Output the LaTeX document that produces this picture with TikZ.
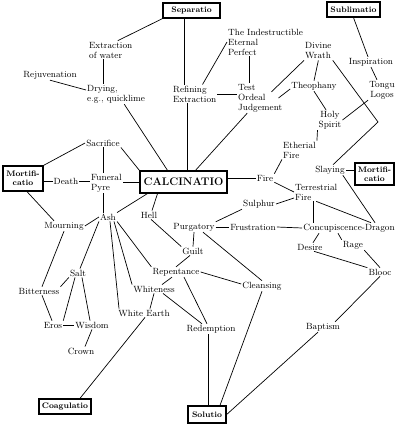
\documentclass[tikz,border=0pt]{standalone}
\begin{document}
\begin{tikzpicture}[x=1pt,y=-1pt,
  t/.style={font=\fontsize{9}{10}\selectfont, inner sep=1pt, align=center},
  tl/.style={t, align=left, anchor=west},
  box/.style={draw, line width=1.3pt, font=\bfseries\fontsize{8}{9}\selectfont, inner sep=1pt, align=center},
  e/.style={line width=0.7pt}]
\useasboundingbox (0,0) rectangle (407,427);
% boxes
\node[box, minimum width=57pt, minimum height=15pt] (sep) at (191.5,10.5) {Separatio};
\node[box, minimum width=53pt, minimum height=15pt] (sub) at (353.5,9.5) {Sublimatio};
\node[box, minimum width=40pt, minimum height=25pt, font=\bfseries\fontsize{8}{9}\selectfont] (mort1) at (23,178.5) {Mortifi-\\catio};
\node[box, minimum width=39pt, minimum height=22pt] (mort2) at (374.5,174) {Mortifi-\\catio};
\node[box, minimum width=87pt, minimum height=22pt, font=\bfseries\fontsize{11}{12}\selectfont] (calc) at (183.5,182) {CALCINATIO};
\node[box, minimum width=52pt, minimum height=15pt] (coag) at (65,406.5) {Coagulatio};
\node[box, minimum width=38pt, minimum height=17pt] (sol) at (207,414.5) {Solutio};
% text nodes
\node[tl] (extr) at (88,50) {Extraction\\of water};
\node[t] (rej) at (50,75) {Rejuvenation};
\node[tl] (dry) at (86,94) {Drying,\\e.g., quicklime};
\node[tl] (ref) at (172,94) {Refining\\Extraction};
\node[tl] (indes) at (227,42) {The Indestructible\\Eternal\\Perfect};
\node[tl] (test) at (237,98) {Test\\Ordeal\\Judgement};
\node[tl] (wrath) at (304,51) {Divine\\Wrath};
\node[t] (theo) at (314,86) {Theophany};
\node[t] (holy) at (330,120) {Holy\\Spirit};
\node[t] (insp) at (371,62) {Inspiration};
\node[t] (tongu) at (382,90) {Tongu\\Logos};
\node[tl] (eth) at (282,150) {Etherial\\Fire};
\node[t] (slay) at (330,170) {Slaying};
\node[t] (fire) at (265,178) {Fire};
\node[tl] (terr) at (294,192) {Terrestrial\\Fire};
\node[t] (sulph) at (259,204) {Sulphur};
\node[t] (purg) at (194,227) {Purgatory};
\node[t] (frus) at (253,227) {Frustration};
\node[t] (conc) at (349,228) {Concupiscence-Dragon};
\node[t] (desire) at (310,247) {Desire};
\node[t] (rage) at (353,245) {Rage};
\node[t] (blooc) at (380,272) {Blooc};
\node[t] (bapt) at (323,327) {Baptism};
\node[t] (cleans) at (262,286) {Cleansing};
\node[t] (redemp) at (211,329) {Redemption};
\node[t] (sac) at (103,143) {Sacrifice};
\node[t] (death) at (66,181) {Death};
\node[tl] (pyre) at (90,183) {Funeral\\Pyre};
\node[t] (ash) at (108,217) {Ash};
\node[t] (hell) at (149,215) {Hell};
\node[t] (mourn) at (64,226) {Mourning};
\node[t] (guilt) at (193,251) {Guilt};
\node[t] (rep) at (176,272) {Repentance};
\node[t] (whit) at (154,289) {Whiteness};
\node[t] (wearth) at (144,313) {White Earth};
\node[t] (salt) at (78,273) {Salt};
\node[t] (bitter) at (39,291) {Bitterness};
\node[t] (eros) at (53,325) {Eros};
\node[t] (wisdom) at (92,325) {Wisdom};
\node[t] (crown) at (81,351) {Crown};
\coordinate (bend) at (378,122);
% edges
\draw[e] (sep.south west) -- ([xshift=7pt]extr.north);
\draw[e] ([xshift=-10pt]ref.north) -- ([xshift=-10pt]ref.north |- sep.south);
\draw[e] ([xshift=-7pt]extr.south) -- ([xshift=-7pt]extr.south |- dry.north);
\draw[e] (rej.south) -- ([yshift=4pt]dry.west);
\draw[e] ([xshift=-22pt]dry.south east) -- ([xshift=-16pt]calc.north);
\draw[e] ([xshift=-7pt]ref.south) -- ([xshift=-7pt]ref.south |- calc.north);
\draw[e] ([xshift=-15pt]ref.north east) -- (indes.west);
\draw[e] (ref.east) -- (ref.east -| test.west);
\draw[e] ([xshift=-11pt]test.north) -- ([xshift=-11pt]test.north |- indes.south);
\draw[e] ([xshift=-12pt,yshift=-9pt]test.north east) -- (wrath.south west);
\draw[e] ([xshift=-5pt]test.east) -- ([yshift=-3pt]theo.west);
\draw[e] ([xshift=-13pt]test.south) -- ([xshift=12pt]calc.north);
\draw[e] (wrath.south) -- (theo.north);
\draw[e] (theo.south) -- ([xshift=-4pt]holy.north);
\draw[e] (wrath.south east) -- (bend) -- ([xshift=3pt]slay.north);
\draw[e] (holy.east) -- (tongu.south west);
\draw[e] (sub.south) -- ([xshift=-3pt]insp.north);
\draw[e] (insp.south) -- ([xshift=-5pt]tongu.north);
\draw[e] (holy.south west) -- (eth.north east);
\draw[e] (eth.south west) -- (fire.north east);
\draw[e] (fire.west) -- (fire.west -| calc.east);
\draw[e] (fire.south east) -- (terr.west);
\draw[e] (slay.east) -- (slay.east -| mort2.west);
\draw[e] ([xshift=-3pt]slay.south east) -- ([xshift=26pt]conc.north);
\draw[e] (terr.south) -- ([xshift=22pt]conc.north);
\draw[e] ([xshift=-3pt]terr.south) -- ([xshift=-3pt]terr.south |- conc.north);
\draw[e] (sulph.east) -- ([yshift=-6pt]terr.west);
\draw[e] (sulph.south west) -- (purg.north east);
\draw[e] (purg.east) -- (frus.west);
\draw[e] (frus.east) -- (conc.west);
\draw[e] (purg.south) -- (guilt.north);
\draw[e] ([xshift=9pt]purg.south) -- (cleans.north);
\draw[e] ([xshift=-30pt]conc.south) -- ([xshift=3pt]desire.north);
\draw[e] ([xshift=-11pt]conc.south) -- (rage.north west);
\draw[e] ([xshift=4pt]desire.south) -- (blooc.north west);
\draw[e] (rage.south east) -- (blooc.north);
\draw[e] (blooc.south) -- ([xshift=-6pt]bapt.north east);
\draw[e] ([xshift=-5pt]bapt.south) -- (sol.east);
\draw[e] (cleans.south) -- ([xshift=13pt]sol.north);
\draw[e] ([xshift=-3pt]redemp.south) -- ([xshift=-3pt]redemp.south |- sol.north);
\draw[e] (rep.east) -- ([yshift=2pt]cleans.west);
\draw[e] (rep.north) -- ([xshift=-3pt]guilt.south);
\draw[e] ([xshift=-4pt]rep.south) -- ([xshift=8pt]whit.north);
\draw[e] ([xshift=8pt]rep.south) -- ([xshift=-4pt]redemp.north);
\draw[e] ([xshift=9pt]whit.south) -- ([xshift=-9pt]redemp.north);
\draw[e] (whit.south) -- ([xshift=6pt]wearth.north);
\draw[e] ([xshift=1pt]wearth.south) -- ([xshift=15pt]coag.north);
\draw[e] ([xshift=2pt]hell.south) -- (guilt.north west);
\draw[e] ([xshift=-26pt]calc.south) -- ([xshift=3pt]hell.north);
\draw[e] ([xshift=8pt]calc.south west) -- (ash.north east);
\draw[e] (sac.south east) -- (calc.north west);
\draw[e] (calc.west) -- (calc.west -| pyre.east);
\draw[e] (sac.south) -- (sac.south |- pyre.north);
\draw[e] (sac.west) -- (mort1.north east);
\draw[e] (death.west) -- (death.west -| mort1.east);
\draw[e] (death.east) -- (death.east -| pyre.west);
\draw[e] (sac.south |- pyre.south) -- (sac.south |- ash.north);
\draw[e] ([xshift=4pt]mort1.south) -- ([xshift=-10pt]mourn.north);
\draw[e] (mourn.east) -- (ash.west);
\draw[e] (mourn.south) -- ([xshift=3pt]bitter.north);
\draw[e] (ash.south west) -- ([xshift=2pt]salt.north);
\draw[e] ([xshift=2pt]ash.south) -- ([xshift=-25pt]wearth.north);
\draw[e] ([xshift=6pt]ash.south) -- (whit.north west);
\draw[e] (ash.south east) -- (rep.north west);
\draw[e] (bitter.north east) -- (salt.south west);
\draw[e] ([xshift=-3pt]salt.south) -- (eros.north east);
\draw[e] ([xshift=4pt]salt.south) -- ([xshift=-2pt]wisdom.north);
\draw[e] ([xshift=3pt]bitter.south) -- ([xshift=-1pt]eros.north);
\draw[e] (eros.east) -- (wisdom.west);
\draw[e] (wisdom.south) -- ([xshift=4pt]crown.north);
\end{tikzpicture}
\end{document}
